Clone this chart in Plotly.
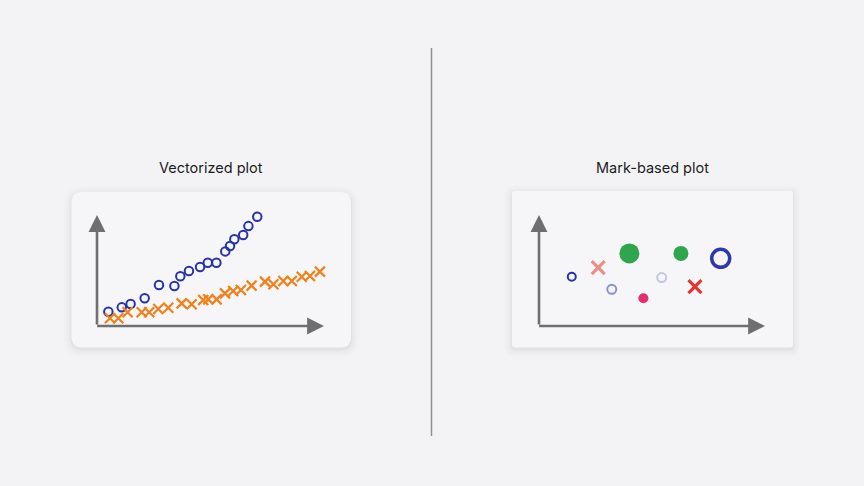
import plotly.graph_objects as go

W, H = 864, 486

# ---- data (left panel: vectorized plot) ----
circ_x = [0.50, 1.09, 1.48, 2.10, 2.73, 3.41, 3.67, 4.05, 4.54, 4.88, 5.26, 5.65, 5.86, 6.05, 6.44, 6.67, 7.06]
circ_y = [0.64, 0.84, 0.99, 1.25, 1.85, 1.80, 2.24, 2.48, 2.66, 2.85, 2.85, 3.36, 3.60, 3.91, 4.10, 4.50, 4.92]
cross_x = [0.57, 0.94, 1.35, 1.97, 2.30, 2.70, 3.14, 3.73, 4.17, 4.68, 4.90, 5.27, 5.64, 6.00, 6.34, 6.81,
           7.40, 7.77, 8.21, 8.58, 9.02, 9.38, 9.82]
cross_y = [0.35, 0.35, 0.62, 0.62, 0.62, 0.77, 0.82, 1.02, 0.98, 1.17, 1.20, 1.20, 1.47, 1.58, 1.62, 1.82,
           2.00, 1.88, 2.03, 2.03, 2.22, 2.25, 2.45]

# ---- data (right panel: mark-based plot) ----
mark_x = [1.45, 2.62, 3.22, 4.00, 4.62, 5.43, 6.28, 6.90, 8.04]
mark_y = [2.22, 2.63, 1.65, 3.27, 1.25, 2.18, 3.27, 1.77, 3.05]
mark_symbol = ["circle-open", "x-thin-open", "circle-open", "circle", "circle", "circle-open", "circle", "x-thin-open", "circle-open"]
mark_size = [8, 13, 9, 20, 10, 9, 15, 13, 18]
mark_color = ["#2733a6", "#ea8e86", "#8b90d2", "#2fa64e", "#e2306c", "#c3c5e6", "#2fa64e", "#e3342f", "#2d39a8"]
mark_width = [2, 3.2, 2, 0, 0, 2, 0, 3.2, 3.5]

titles = ["Vectorized plot", "Mark-based plot"]

BG = "#f3f3f5"
CARD = "#f6f6f8"
AXIS = "#6f6f6f"


def px(x):
    return x / W


def py(y):
    return 1 - y / H


def rrect(x0, y0, x1, y1, r):
    X = lambda v: f"{px(v):.5f}"
    Y = lambda v: f"{py(v):.5f}"
    p = (f"M {X(x0 + r)},{Y(y0)} L {X(x1 - r)},{Y(y0)} Q {X(x1)},{Y(y0)} {X(x1)},{Y(y0 + r)} "
         f"L {X(x1)},{Y(y1 - r)} Q {X(x1)},{Y(y1)} {X(x1 - r)},{Y(y1)} "
         f"L {X(x0 + r)},{Y(y1)} Q {X(x0)},{Y(y1)} {X(x0)},{Y(y1 - r)} "
         f"L {X(x0)},{Y(y0 + r)} Q {X(x0)},{Y(y0)} {X(x0 + r)},{Y(y0)} Z")
    return p


fig = go.Figure()

fig.add_trace(go.Scatter(x=circ_x, y=circ_y, mode="markers", xaxis="x", yaxis="y", cliponaxis=False,
                         marker=dict(symbol="circle-open", size=8.5, color="#2733a6", line=dict(width=2, color="#2733a6")),
                         showlegend=False, hoverinfo="skip"))
fig.add_trace(go.Scatter(x=cross_x, y=cross_y, mode="markers", xaxis="x", yaxis="y", cliponaxis=False,
                         marker=dict(symbol="x-thin-open", size=10, color="#f08019", line=dict(width=2.2, color="#f08019")),
                         showlegend=False, hoverinfo="skip"))

for i in range(len(mark_x)):
    sym = mark_symbol[i]
    if sym == "circle":
        mk = dict(symbol=sym, size=mark_size[i], color=mark_color[i], line=dict(width=0))
    else:
        mk = dict(symbol=sym, size=mark_size[i], color=mark_color[i], line=dict(width=mark_width[i], color=mark_color[i]))
    fig.add_trace(go.Scatter(x=[mark_x[i]], y=[mark_y[i]], mode="markers", xaxis="x2", yaxis="y2",
                             marker=mk, showlegend=False, hoverinfo="skip", cliponaxis=False))

shapes = []
# cards with soft shadow
for (x0, y0, x1, y1, r) in [(71.5, 192, 351, 347.5, 11), (512, 191, 793, 347.5, 3)]:
    for k, op in [(8, 0.008), (6, 0.01), (4, 0.012), (2, 0.015), (1, 0.02)]:
        shapes.append(dict(type="path", xref="paper", yref="paper", path=rrect(x0 - k, y0 - k + 2, x1 + k, y1 + k + 2, r + k),
                           fillcolor=f"rgba(0,0,0,{op})", line=dict(width=0), layer="below"))
    shapes.append(dict(type="path", xref="paper", yref="paper", path=rrect(x0, y0, x1, y1, r),
                       fillcolor=CARD, line=dict(width=0), layer="below"))
# divider
shapes.append(dict(type="line", xref="paper", yref="paper", x0=px(431.5), x1=px(431.5), y0=py(48), y1=py(436),
                   line=dict(color="#8e8e8e", width=1.5)))

annotations = []
for xa, ya in [("x", "y"), ("x2", "y2")]:
    # vertical axis arrow
    annotations.append(dict(x=0, y=5, ax=0, ay=0, xref=xa, yref=ya, axref=xa, ayref=ya, text="", showarrow=True,
                            arrowhead=2, arrowsize=1.3, arrowwidth=2.6, arrowcolor=AXIS, standoff=0, startstandoff=0))
    # horizontal axis arrow
    annotations.append(dict(x=10, y=0, ax=-0.06, ay=0, xref=xa, yref=ya, axref=xa, ayref=ya, text="", showarrow=True,
                            arrowhead=2, arrowsize=1.3, arrowwidth=2.6, arrowcolor=AXIS, standoff=0, startstandoff=0))

for t, cx in zip(titles, [211, 652]):
    annotations.append(dict(text=t, x=px(cx), y=py(167.5), xref="paper", yref="paper", showarrow=False,
                            font=dict(family="Inter, Roboto, sans-serif", size=14.5, color="#1d1d1f"),
                            xanchor="center", yanchor="middle"))

ax_common = dict(visible=False, showgrid=False, zeroline=False, fixedrange=True)
fig.update_layout(
    width=W, height=H, margin=dict(l=0, r=0, t=0, b=0),
    paper_bgcolor=BG, plot_bgcolor="rgba(0,0,0,0)",
    xaxis=dict(domain=[px(97), px(324)], range=[0, 10], **ax_common),
    yaxis=dict(domain=[py(326), py(215)], range=[0, 5], **ax_common),
    xaxis2=dict(domain=[px(539), px(765)], range=[0, 10], anchor="y2", **ax_common),
    yaxis2=dict(domain=[py(326), py(215)], range=[0, 5], anchor="x2", **ax_common),
    shapes=shapes, annotations=annotations,
)

fig.write_html("out.html")
